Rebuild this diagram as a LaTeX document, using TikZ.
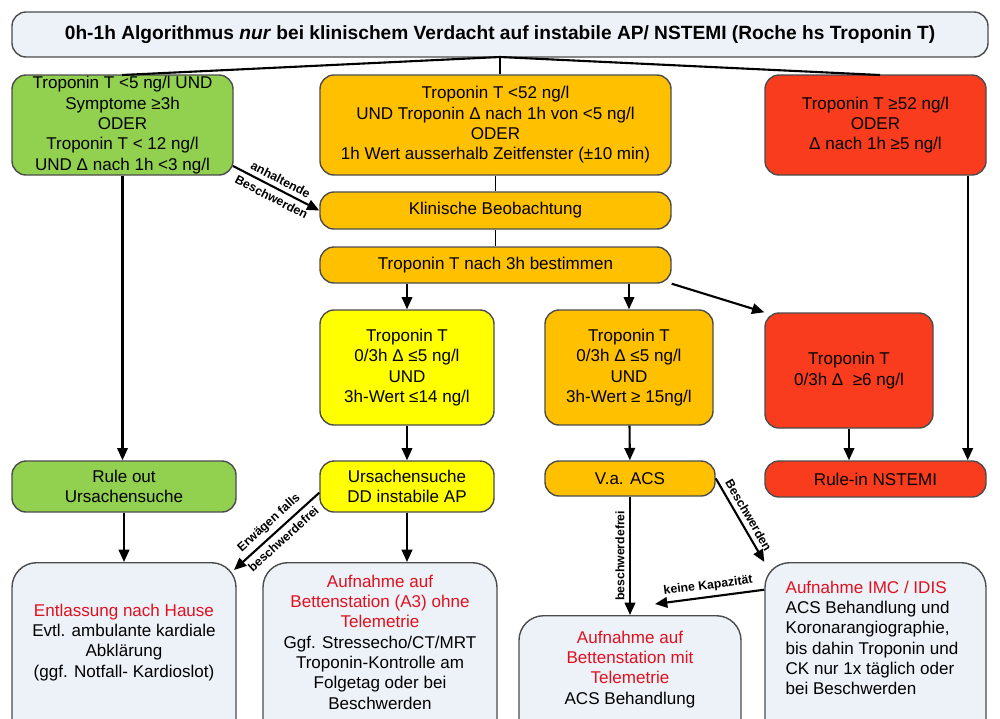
\documentclass[tikz,border=0pt]{standalone}
\usepackage{fontspec}
\setmainfont{Liberation Sans}
\usepackage{tikz}
\usetikzlibrary{arrows.meta}
\definecolor{gruen}{HTML}{92D050}
\definecolor{orang}{HTML}{FFC000}
\definecolor{rot}{HTML}{FA3C1E}
\definecolor{gelb}{HTML}{FFFF00}
\definecolor{hell}{HTML}{EDF2F9}
\definecolor{rtext}{HTML}{E0101E}
\begin{document}
\begin{tikzpicture}
            [x=0.02cm,y=-0.02cm,thick,
             box/.style={draw=black!70,rounded corners=8pt,align=center,inner sep=0pt,
               font=\fontsize{9.7}{11.6}\selectfont},
             txt/.style={align=center,inner sep=0pt,anchor=north,font=\fontsize{9.7}{11.6}\selectfont},
             pf/.style={-{Triangle[length=7pt,width=6pt]},line width=1.2pt},
             lab/.style={font=\bfseries\fontsize{7}{8}\selectfont,inner sep=2.5pt}]
            \useasboundingbox (0,0) rectangle (1000,718);
            \clip (0,0) rectangle (1000,718);
            % obere Reihe
            \node[box,fill=hell,minimum width=976*0.02cm,minimum height=45*0.02cm,font=\bfseries\fontsize{10.9}{13}\selectfont] (titel) at (500,34.5) {0h-1h Algorithmus \textit{nur} bei klinischem Verdacht auf instabile AP/ NSTEMI (Roche hs Troponin T)};
            \node[box,fill=gruen,minimum width=221*0.02cm,minimum height=100*0.02cm] (gr1) at (122.5,125) {Troponin T <5 ng/l UND\\Symptome ≥3h\\ODER\\Troponin T < 12 ng/l\\UND Δ nach 1h <3 ng/l};
            \node[box,fill=orang,minimum width=351*0.02cm,minimum height=100*0.02cm] (or1) at (495.5,125) {Troponin T <52 ng/l\\UND Troponin Δ nach 1h von <5 ng/l\\ODER\\1h Wert ausserhalb Zeitfenster (±10 min)};
            \node[box,fill=rot,minimum width=221*0.02cm,minimum height=100*0.02cm] (rt1) at (875.5,125) {Troponin T ≥52 ng/l\\ODER\\Δ nach 1h ≥5 ng/l};
            \node[box,fill=orang,minimum width=351*0.02cm,minimum height=37*0.02cm] (beob) at (495.5,210.5) {Klinische Beobachtung};
            \node[box,fill=orang,minimum width=351*0.02cm,minimum height=36*0.02cm] (tr3h) at (495.5,265) {Troponin T nach 3h bestimmen};
            % mittlere Reihe
            \node[box,fill=gelb,minimum width=174*0.02cm,minimum height=115*0.02cm] (ge2) at (407,367.5) {Troponin T\\0/3h Δ ≤5 ng/l\\UND\\3h-Wert ≤14 ng/l};
            \node[box,fill=orang,minimum width=168*0.02cm,minimum height=115*0.02cm] (or2) at (629,367.5) {Troponin T\\0/3h Δ ≤5 ng/l\\UND\\3h-Wert ≥ 15ng/l};
            \node[box,fill=rot,minimum width=168*0.02cm,minimum height=115*0.02cm] (rt2) at (849,370.5) {Troponin T\\0/3h Δ \ ≥6 ng/l};
            \node[box,fill=gruen,minimum width=224*0.02cm,minimum height=51*0.02cm] (ruleout) at (124,486.5) {Rule out\\Ursachensuche};
            \node[box,fill=gelb,minimum width=174*0.02cm,minimum height=51*0.02cm] (ursache) at (407,486.5) {Ursachensuche\\DD instabile AP};
            \node[box,fill=orang,minimum width=170*0.02cm,minimum height=35*0.02cm] (acs) at (630,478.5) {V.a. ACS};
            \node[box,fill=rot,minimum width=221*0.02cm,minimum height=36*0.02cm] (rulein) at (875.5,479) {Rule-in NSTEMI};
            % untere Reihe
            \node[box,fill=hell,minimum width=224*0.02cm,minimum height=190*0.02cm,rounded corners=14pt,anchor=north] (haus) at (124,562) {};
            \node[txt] (hausT) at (124,603) {\textcolor{rtext}{Entlassung nach Hause}\\Evtl. ambulante kardiale\\Abklärung\\(ggf. Notfall- Kardioslot)};
            \node[box,fill=hell,minimum width=234*0.02cm,minimum height=190*0.02cm,rounded corners=14pt,anchor=north] (a3) at (380,562) {};
            \node[txt] (a3T) at (380,574) {\textcolor{rtext}{Aufnahme auf}\\\textcolor{rtext}{Bettenstation (A3) ohne}\\\textcolor{rtext}{Telemetrie}\\Ggf. Stressecho/CT/MRT\\Troponin-Kontrolle am\\Folgetag oder bei\\Beschwerden};
            \node[box,fill=hell,minimum width=222*0.02cm,minimum height=140*0.02cm,rounded corners=14pt,anchor=north] (tele) at (630,615) {};
            \node[txt] (teleT) at (630,630) {\textcolor{rtext}{Aufnahme auf}\\\textcolor{rtext}{Bettenstation mit}\\\textcolor{rtext}{Telemetrie}\\ACS Behandlung};
            \node[box,fill=hell,minimum width=221*0.02cm,minimum height=190*0.02cm,rounded corners=14pt,anchor=north] (imc) at (875.5,562) {};
            \node[txt,align=left] (imcT) at (872,580) {\textcolor{rtext}{Aufnahme IMC / IDIS}\\ACS Behandlung und\\Koronarangiographie,\\bis dahin Troponin und\\CK nur 1x täglich oder\\bei Beschwerden};
            % Verbindungen
            \coordinate (tm) at (500,57);
            \draw[line width=1.2pt] (tm) -- (122,75);
            \draw[line width=1pt] (tm) -- (or1.north -| tm);
            \draw[line width=1.2pt] (tm) -- (880,75);
            \draw[line width=1pt] (or1) -- (beob);
            \draw[line width=1pt] (beob) -- (tr3h);
            \draw[pf] (gr1.south) -- (ruleout.north -| gr1.south);
            \draw[pf] (rt1.south east) ++(-19,0) coordinate (r1) -- (r1 |- rulein.north);
            \draw[pf] (233,166) -- node[lab,sloped,above]{anhaltende} node[lab,sloped,below]{Beschwerden} (beob.west);
            \draw[pf] (tr3h.south -| ge2) -- (ge2);
            \draw[pf] (tr3h.south -| or2) -- (or2);
            \draw[pf] (tr3h.south east) -- (rt2.north west);
            \draw[pf] (ge2) -- (ursache);
            \draw[pf] (or2) -- (acs);
            \draw[pf] (rt2) -- (rt2 |- rulein.north);
            \draw[pf] (ruleout) -- (ruleout |- haus.north);
            \draw[pf] (ursache) -- (ursache |- a3.north);
            \draw[pf] (ursache.south west) ++(0,-20) coordinate (u1) -- node[lab,sloped,above]{Erwägen falls} node[lab,sloped,below]{beschwerdefrei} (234,570);
            \draw[pf] (acs) -- (acs |- tele.north) node[lab,midway,rotate=90,anchor=south] (bfrei) {beschwerdefrei};
            \draw[pf] (acs.north east) ++(0,18) coordinate (a1) -- node[lab,sloped,above]{Beschwerden} (imc.north west);
            \draw[pf] (imc.west) ++(0,-68) coordinate (k1) -- node[lab,sloped,above]{keine Kapazität} (655,604);
        \end{tikzpicture}
\end{document}
